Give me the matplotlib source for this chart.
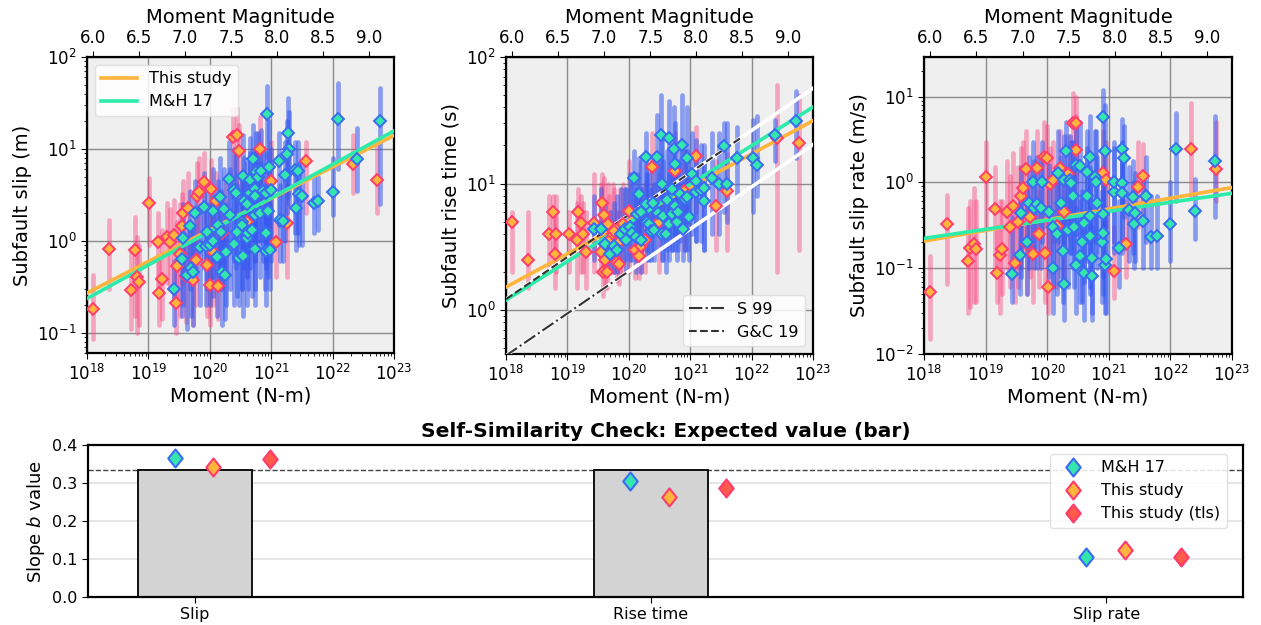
import numpy as np
import matplotlib
matplotlib.use("Agg")
import matplotlib.pyplot as plt
from matplotlib.lines import Line2D
from matplotlib.path import Path
from matplotlib.ticker import NullLocator, FixedLocator

# ---------------------------------------------------------------------------
# Per-event subfault statistics.
# Each row: log10 seismic moment (N-m), event median, lowest subfault, highest subfault
# ---------------------------------------------------------------------------
slip_this_study = [
    (18.10, 0.18, 0.085, 0.42), (18.36, 0.81, 0.30, 1.7), (18.71, 0.29, 0.11, 0.75),
    (18.78, 0.80, 0.15, 1.8), (18.81, 0.40, 0.10, 1.1), (18.84, 0.36, 0.12, 0.9),
    (19.01, 2.56, 0.9, 4.8), (19.15, 0.96, 0.25, 2.0), (19.18, 0.27, 0.12, 0.6),
    (19.22, 0.38, 0.14, 1.3), (19.30, 1.10, 0.35, 2.6), (19.35, 0.96, 0.30, 2.2),
    (19.42, 1.16, 0.20, 2.8), (19.45, 0.21, 0.10, 0.5), (19.46, 0.53, 0.20, 1.6),
    (19.52, 0.72, 0.15, 2.5), (19.55, 1.43, 0.35, 3.2), (19.56, 2.0, 0.5, 4.5),
    (19.62, 0.41, 0.13, 1.1), (19.65, 2.3, 0.4, 5.5), (19.72, 0.37, 0.12, 1.0),
    (19.78, 0.62, 0.20, 1.8), (19.79, 3.1, 0.6, 7.0), (19.82, 3.4, 0.7, 8.0),
    (19.90, 4.4, 1.2, 9.0), (19.95, 0.55, 0.15, 1.4), (20.02, 3.7, 0.9, 7.5),
    (20.00, 0.33, 0.12, 0.9), (20.06, 0.75, 0.2, 2.0), (20.10, 2.7, 0.6, 5.5),
    (20.14, 0.32, 0.14, 0.8), (20.20, 1.2, 0.3, 3.0), (20.27, 2.1, 0.5, 5.0),
    (20.38, 13.5, 3.0, 27), (20.45, 14.0, 3.5, 28), (20.47, 9.5, 2.5, 18),
    (20.60, 1.6, 0.4, 4.0), (20.81, 10.0, 2.5, 22), (20.99, 4.5, 0.9, 12),
    (21.08, 0.96, 0.4, 1.6), (21.26, 1.55, 0.4, 4.0), (21.57, 7.4, 2.0, 12),
    (22.34, 6.8, 3.3, 14), (22.72, 4.6, 2.0, 12),
]
slip_mh17 = [
    (19.41, 0.30, 0.12, 0.6), (19.55, 0.64, 0.15, 1.6), (19.57, 1.07, 0.20, 2.5),
    (19.63, 0.42, 0.11, 1.2), (19.67, 1.45, 0.30, 3.5), (19.69, 0.50, 0.15, 1.3),
    (19.72, 0.46, 0.12, 1.4), (19.76, 2.0, 0.4, 4.5), (19.84, 0.85, 0.20, 2.2),
    (19.91, 2.35, 0.5, 5.5), (19.93, 0.87, 0.2, 2.5), (19.95, 1.25, 0.3, 3.5),
    (20.00, 0.90, 0.20, 2.5), (20.05, 2.1, 0.4, 6.0), (20.06, 1.0, 0.25, 3.0),
    (20.12, 0.66, 0.15, 2.0), (20.14, 1.5, 0.3, 4.5), (20.16, 3.0, 0.5, 8.0),
    (20.19, 1.25, 0.3, 3.5), (20.20, 0.46, 0.12, 1.4), (20.23, 2.2, 0.4, 6.0),
    (20.25, 0.42, 0.14, 1.3), (20.26, 0.76, 0.2, 2.5), (20.31, 4.7, 0.8, 12),
    (20.33, 1.9, 0.3, 6.0), (20.39, 0.92, 0.2, 3.0), (20.40, 3.6, 0.6, 10),
    (20.42, 3.3, 0.5, 9.0), (20.44, 1.25, 0.25, 4.0), (20.48, 0.65, 0.2, 2.5),
    (20.52, 1.6, 0.3, 5.0), (20.54, 5.1, 0.8, 14), (20.54, 0.68, 0.15, 2.5),
    (20.53, 1.5, 0.3, 5.0), (20.56, 2.7, 0.5, 8.0), (20.60, 2.5, 0.4, 7.0),
    (20.60, 1.06, 0.2, 3.5), (20.63, 1.2, 0.3, 4.5), (20.65, 4.6, 0.8, 13),
    (20.65, 3.3, 0.5, 9.0), (20.68, 1.3, 0.25, 4.5), (20.70, 7.7, 1.5, 18),
    (20.73, 3.7, 0.6, 10), (20.73, 1.9, 0.3, 6.0), (20.73, 0.82, 0.2, 3.0),
    (20.74, 3.1, 0.6, 9.0), (20.76, 5.6, 1.0, 15), (20.79, 5.0, 1.0, 15),
    (20.82, 2.0, 0.4, 7.0), (20.84, 5.8, 1.0, 16), (20.87, 3.5, 0.6, 10),
    (20.90, 1.25, 0.3, 4.0), (20.92, 3.3, 0.6, 9.0), (20.92, 0.78, 0.2, 2.5),
    (20.93, 24, 8.0, 48), (20.95, 2.1, 0.4, 7.0), (20.96, 6.4, 1.5, 20),
    (20.99, 3.6, 0.6, 10), (20.91, 1.2, 0.5, 3.5), (20.98, 0.80, 0.3, 2.5),
    (21.13, 7.3, 1.5, 15), (21.15, 1.67, 0.6, 4.0), (21.27, 15, 3.0, 36),
    (21.29, 10, 2.5, 25), (21.25, 8.7, 2.0, 20), (21.23, 5.2, 1.0, 12),
    (21.20, 1.65, 0.6, 4.5), (21.39, 5.9, 1.2, 12), (21.41, 2.3, 0.8, 6.0),
    (21.44, 5.8, 1.2, 12), (21.46, 3.25, 0.9, 7.0), (21.50, 3.1, 0.9, 7.0),
    (21.69, 2.6, 1.2, 5.0), (21.77, 2.7, 1.3, 5.0), (22.01, 3.4, 1.9, 8.0),
    (22.08, 21, 6.0, 52), (22.39, 7.8, 3.5, 17), (22.78, 20, 2.5, 46),
]
rise_this_study = [
    (18.09, 5.0, 2.0, 6.0), (18.36, 2.5, 1.5, 6.0), (18.70, 4.0, 2.0, 8.0),
    (18.76, 6.0, 3.0, 8.0), (18.80, 2.8, 1.5, 6.0), (18.82, 4.0, 2.0, 8.0),
    (19.02, 4.0, 2.0, 6.0), (19.15, 3.6, 1.5, 7.0), (19.18, 6.0, 3.0, 9.0),
    (19.22, 4.9, 2.0, 8.0), (19.25, 4.0, 2.0, 7.0), (19.30, 2.9, 1.5, 6.0),
    (19.44, 4.9, 2.0, 12), (19.55, 2.9, 2.0, 10), (19.56, 7.0, 3.0, 12),
    (19.58, 2.0, 1.3, 5.0), (19.60, 5.6, 2.5, 11), (19.62, 2.5, 1.5, 6.0),
    (19.65, 2.0, 1.5, 4.0), (19.66, 4.8, 2.0, 10), (19.68, 3.5, 2.0, 8.0),
    (19.74, 4.0, 2.0, 10), (19.76, 4.2, 2.0, 9.0), (19.80, 2.4, 1.7, 6.0),
    (19.84, 2.3, 1.6, 6.0), (19.85, 3.5, 2.0, 9.0), (19.90, 4.8, 2.0, 10),
    (20.00, 6.1, 2.0, 15), (20.10, 3.0, 1.8, 8.0), (20.17, 2.7, 1.8, 7.0),
    (20.20, 3.2, 2.0, 9.0), (20.27, 3.6, 2.0, 10), (20.37, 13.5, 5.0, 25),
    (20.49, 5.0, 2.0, 12), (20.75, 12.5, 5.0, 25), (20.90, 8.8, 3.0, 18),
    (21.10, 16.5, 6.0, 28), (21.42, 6.7, 3.0, 15), (21.60, 8.7, 3.0, 17),
    (22.42, 23, 2.0, 60), (22.77, 21, 3.0, 50),
]
rise_mh17 = [
    (19.43, 4.4, 2.5, 8.0), (19.55, 4.4, 2.5, 9.0), (19.62, 3.3, 2.0, 7.0),
    (19.70, 2.8, 2.0, 6.0), (19.76, 3.2, 2.0, 7.0), (19.80, 3.0, 2.0, 8.0),
    (19.88, 4.0, 2.5, 9.0), (19.93, 4.4, 2.5, 9.0), (19.95, 3.6, 2.0, 9.0),
    (20.02, 4.5, 2.5, 12), (20.06, 4.1, 2.5, 10), (20.09, 11.0, 4.0, 18),
    (20.12, 3.8, 2.0, 9.0), (20.14, 5.7, 2.5, 12), (20.17, 8.2, 3.5, 16),
    (20.20, 6.0, 3.0, 15), (20.20, 3.6, 2.0, 9.0), (20.28, 16.3, 5.0, 25),
    (20.28, 6.9, 3.0, 14), (20.30, 5.0, 2.5, 12), (20.33, 4.8, 2.5, 12),
    (20.36, 4.2, 2.5, 9.0), (20.40, 7.0, 3.0, 15), (20.41, 4.3, 2.5, 10),
    (20.46, 16.1, 5.0, 35), (20.47, 5.9, 3.0, 14), (20.52, 24, 8.0, 50),
    (20.54, 10, 4.0, 25), (20.54, 4.0, 2.5, 10), (20.55, 5.5, 2.5, 15),
    (20.60, 4.0, 2.0, 10), (20.63, 7.4, 3.0, 18), (20.65, 4.8, 2.5, 12),
    (20.66, 23, 6.0, 45), (20.70, 9.0, 3.0, 20), (20.71, 5.7, 3.0, 14),
    (20.73, 18.6, 6.0, 40), (20.76, 14.3, 4.0, 30), (20.76, 6.7, 3.0, 15),
    (20.79, 5.0, 2.5, 12), (20.80, 6.0, 3.0, 15), (20.84, 8.3, 3.5, 20),
    (20.87, 20, 5.0, 50), (20.89, 4.4, 2.5, 10), (20.92, 7.5, 3.0, 18),
    (20.95, 16, 5.0, 40), (20.95, 7.8, 3.0, 18), (20.98, 5.4, 2.5, 12),
    (21.03, 12, 4.0, 25), (21.09, 10.4, 3.5, 22), (21.10, 8.5, 3.5, 18),
    (21.17, 8.9, 3.5, 20), (21.22, 7.3, 3.0, 15), (21.23, 9.2, 3.0, 20),
    (21.35, 11, 4.0, 25), (21.47, 10, 4.0, 25), (21.55, 19.8, 6.0, 30),
    (21.60, 10, 5.0, 30), (21.77, 16, 8.0, 28), (22.03, 16, 6.0, 32),
    (22.08, 13.9, 8.0, 34), (22.38, 24, 15, 32), (22.72, 31, 16, 54),
]
rate_this_study = [
    (18.09, 0.053, 0.015, 0.14), (18.37, 0.33, 0.065, 0.72), (18.72, 0.12, 0.03, 0.5),
    (18.75, 0.17, 0.035, 0.6), (18.81, 0.19, 0.04, 0.85), (18.84, 0.166, 0.04, 0.6),
    (19.01, 1.16, 0.3, 3.0), (19.15, 0.49, 0.1, 1.5), (19.18, 0.087, 0.04, 0.3),
    (19.23, 0.141, 0.03, 0.6), (19.27, 0.166, 0.05, 0.6), (19.34, 0.45, 0.1, 1.8),
    (19.40, 0.30, 0.06, 1.2), (19.45, 0.53, 0.08, 2.2), (19.47, 0.114, 0.04, 0.5),
    (19.52, 0.35, 0.06, 1.5), (19.58, 0.69, 0.1, 2.5), (19.61, 0.87, 0.15, 3.0),
    (19.66, 1.42, 0.2, 4.0), (19.67, 0.19, 0.05, 0.6), (19.72, 0.40, 0.08, 1.5),
    (19.77, 0.146, 0.04, 0.5), (19.84, 1.48, 0.3, 4.0), (19.86, 0.25, 0.06, 0.8),
    (19.94, 2.0, 0.3, 5.0), (19.96, 0.15, 0.04, 0.5), (20.00, 1.93, 0.3, 4.5),
    (20.01, 0.061, 0.03, 0.3), (20.05, 0.95, 0.15, 2.5), (20.10, 1.08, 0.2, 3.0),
    (20.16, 0.31, 0.06, 1.0), (20.20, 1.48, 0.3, 4.0), (20.27, 0.45, 0.08, 1.5),
    (20.34, 1.24, 0.3, 3.5), (20.42, 4.9, 1.2, 11), (20.46, 2.4, 0.5, 6.0),
    (20.47, 4.9, 1.0, 10), (20.91, 1.3, 0.3, 4.0), (20.95, 1.08, 0.3, 3.0),
    (21.08, 0.093, 0.045, 0.3), (21.28, 0.19, 0.08, 0.6), (21.47, 0.89, 0.3, 3.0),
    (21.56, 1.18, 0.4, 2.8), (22.33, 2.48, 0.7, 8.5), (22.74, 1.44, 0.6, 5.0),
]
rate_mh17 = [
    (19.43, 0.085, 0.04, 0.4), (19.56, 0.142, 0.05, 0.6), (19.58, 0.44, 0.08, 1.5),
    (19.68, 0.20, 0.05, 0.8), (19.71, 0.57, 0.1, 2.0), (19.77, 1.0, 0.15, 3.0),
    (19.78, 0.50, 0.1, 1.8), (19.84, 0.56, 0.1, 2.0), (19.90, 0.50, 0.1, 1.8),
    (19.92, 1.0, 0.2, 3.0), (20.03, 0.45, 0.08, 1.6), (20.09, 0.10, 0.03, 0.4),
    (20.10, 0.30, 0.06, 1.0), (20.16, 0.25, 0.05, 1.0), (20.17, 1.3, 0.2, 4.0),
    (20.23, 0.58, 0.08, 2.0), (20.25, 0.16, 0.04, 0.6), (20.28, 0.065, 0.025, 0.25),
    (20.28, 1.08, 0.15, 3.5), (20.30, 2.3, 0.3, 5.0), (20.33, 0.28, 0.06, 1.0),
    (20.37, 1.08, 0.15, 3.5), (20.39, 0.98, 0.15, 3.0), (20.42, 0.69, 0.1, 3.0),
    (20.44, 0.30, 0.06, 1.2), (20.46, 0.11, 0.03, 0.5), (20.47, 1.6, 0.25, 5.0),
    (20.53, 0.14, 0.04, 0.6), (20.53, 1.55, 0.2, 5.0), (20.57, 0.20, 0.04, 0.8),
    (20.59, 0.34, 0.07, 1.2), (20.59, 0.089, 0.025, 0.35), (20.64, 0.69, 0.12, 2.5),
    (20.65, 1.33, 0.2, 4.0), (20.69, 2.0, 0.3, 6.0), (20.70, 0.41, 0.06, 1.5),
    (20.70, 0.24, 0.05, 0.9), (20.72, 0.13, 0.03, 0.5), (20.72, 0.081, 0.025, 0.3),
    (20.78, 1.17, 0.2, 4.0), (20.81, 0.58, 0.1, 2.0), (20.80, 1.0, 0.15, 4.0),
    (20.89, 0.20, 0.04, 0.8), (20.91, 5.8, 1.0, 12), (20.91, 0.43, 0.08, 1.5),
    (20.94, 2.3, 0.3, 8.0), (20.94, 0.11, 0.03, 0.45), (20.95, 0.128, 0.03, 0.5),
    (20.90, 0.26, 0.05, 1.0), (21.08, 0.77, 0.15, 2.5), (21.08, 1.0, 0.2, 3.0),
    (21.17, 0.17, 0.06, 0.6), (21.21, 0.99, 0.2, 3.0), (21.22, 2.46, 0.5, 5.5),
    (21.24, 1.93, 0.4, 4.5), (21.21, 0.76, 0.15, 2.0), (21.32, 0.48, 0.12, 1.5),
    (21.39, 0.68, 0.15, 1.8), (21.41, 0.33, 0.1, 1.0), (21.43, 0.44, 0.12, 1.3),
    (21.56, 0.36, 0.1, 1.0), (21.60, 0.69, 0.2, 2.0), (21.68, 0.23, 0.1, 0.7),
    (21.79, 0.24, 0.1, 0.7), (22.00, 0.33, 0.12, 1.0), (22.09, 2.48, 0.6, 6.5),
    (22.40, 0.47, 0.22, 1.1), (22.73, 1.77, 0.4, 6.0),
]

# Self-similarity check: slope b of log(quantity) vs log(moment)
quantities = ["Slip", "Rise time", "Slip rate"]
expected_b = [1 / 3, 1 / 3, 0.0]
b_mh17 = [0.365, 0.305, 0.105]
b_this_study = [0.343, 0.263, 0.125]
b_this_study_tls = [0.363, 0.288, 0.106]

# Fit-line level at M0 = 1e18 N-m (slip m, rise time s, slip rate m/s)
fit_1e18_this_study = [0.27, 1.52, 0.207]
fit_1e18_mh17 = [0.235, 1.20, 0.223]

# Rise-time scaling laws (b = 1/3), level at 1e18 N-m
s99_1e18 = 0.437
gc19_1e18 = 1.22

# Moment-magnitude tick values
mw_ticks = [6.0, 6.5, 7.0, 7.5, 8.0, 8.5, 9.0]

# ---------------------------------------------------------------------------
PINK = "#FA3F7C"
BLUE = "#3558F0"
ORANGE = "#FFB43C"
GREEN = "#2DEBA9"
EDGE_PINK = "#FF3C6E"
EDGE_BLUE = "#3A6BF2"
GREEN_FILL = "#34E6AE"
TLS_RED = "#FF5A4A"
DARK = "#333333"

W, H = 1261, 625
fig = plt.figure(figsize=(W / 100, H / 100), dpi=100)


def rect(left, top, width, height):
    return [left / W, 1 - (top + height) / H, width / W, height / H]


def m0_to_mw(m):
    m = np.asarray(m, dtype=float)
    with np.errstate(divide="ignore", invalid="ignore"):
        return 2.0 / 3.0 * (np.log10(m) - 9.1)


def mw_to_m0(mw):
    return 10 ** (1.5 * np.asarray(mw, dtype=float) + 9.1)


def columns(ax, rows, color, alpha):
    logm = np.array([r[0] for r in rows])
    lo = [r[2] for r in rows]
    hi = [r[3] for r in rows]
    ax.vlines(10 ** logm, lo, hi, colors=color, alpha=alpha, lw=3.4,
              capstyle="round", zorder=2)


def medians(ax, rows, face, edge):
    logm = np.array([r[0] for r in rows])
    med = [r[1] for r in rows]
    ax.plot(10 ** logm, med, ls="none", marker="D", ms=6.5, mfc=face,
            mec=edge, mew=1.4, zorder=6)


def panel(rect_px, ts_rows, mh_rows, k, ylabel, ylim):
    ax = fig.add_axes(rect(*rect_px))
    ax.set_facecolor("#EFEFEF")
    ax.set_xscale("log")
    ax.set_yscale("log")
    ax.set_xlim(1e18, 1e23)
    ax.set_ylim(*ylim)
    ax.grid(True, which="major", color="#8C8C8C", lw=1.0)
    ax.set_axisbelow(True)

    columns(ax, ts_rows, PINK, 0.42)
    columns(ax, mh_rows, BLUE, 0.55)

    m = np.array([1e18, 1e23])
    ax.plot(m, fit_1e18_this_study[k] * (m / 1e18) ** b_this_study[k],
            color=ORANGE, lw=2.6, zorder=4, label="This study")
    ax.plot(m, fit_1e18_mh17[k] * (m / 1e18) ** b_mh17[k],
            color=GREEN, lw=2.6, zorder=4.1, label="M&H 17")

    medians(ax, ts_rows, ORANGE, EDGE_PINK)
    medians(ax, mh_rows, GREEN_FILL, EDGE_BLUE)

    ax.set_xlabel("Moment (N-m)", fontsize=14, labelpad=2)
    ax.set_ylabel(ylabel, fontsize=14)
    ax.tick_params(axis="both", which="major", labelsize=12, length=4)
    for s in ax.spines.values():
        s.set_linewidth(1.6)
        s.set_color("black")

    sec = ax.secondary_xaxis("top", functions=(m0_to_mw, mw_to_m0))
    sec.xaxis.set_major_locator(FixedLocator(mw_ticks))
    sec.xaxis.set_minor_locator(NullLocator())
    sec.set_xticklabels([f"{v:.1f}" for v in mw_ticks])
    sec.tick_params(labelsize=12, length=4)
    sec.set_xlabel("Moment Magnitude", fontsize=14, labelpad=4)
    return ax


ax1 = panel((87, 57, 307, 296), slip_this_study, slip_mh17, 0,
            "Subfault slip (m)", (0.06, 100))
ax1.legend(loc="upper left", fontsize=11.5, framealpha=0.85,
           edgecolor="#DDDDDD", handlelength=2.2)

ax2 = panel((506, 57, 307, 297), rise_this_study, rise_mh17, 1,
            "Subfault rise time (s)", (0.45, 100))
m_full = np.array([1e18, 1e23])
ax2.plot(m_full, s99_1e18 * (m_full / 1e18) ** (1 / 3), color="white", lw=2.6, zorder=3)
ax2.plot(m_full, gc19_1e18 * (m_full / 1e18) ** (1 / 3), color="white", lw=2.6, zorder=3)
m_s99 = np.array([1e18, 1e20])
m_gc = np.array([1e18, 7e21])
ax2.plot(m_s99, s99_1e18 * (m_s99 / 1e18) ** (1 / 3), color=DARK, ls="-.", lw=1.5, zorder=5)
ax2.plot(m_gc, gc19_1e18 * (m_gc / 1e18) ** (1 / 3), color=DARK, ls="--", lw=1.5, zorder=5)
ax2.legend(handles=[Line2D([], [], color=DARK, ls="-.", lw=1.5, label="S 99"),
                    Line2D([], [], color=DARK, ls="--", lw=1.5, label="G&C 19")],
           loc="lower right", fontsize=11.5, framealpha=0.85, edgecolor="#DDDDDD",
           handlelength=2.2)

ax3 = panel((924, 57, 308, 297), rate_this_study, rate_mh17, 2,
            "Subfault slip rate (m/s)", (0.01, 29))

# ---------------------------------------------------------------------------
# Bottom: fitted slopes against the self-similar expectation
# ---------------------------------------------------------------------------
axb = fig.add_axes(rect(88, 445, 1155, 152))
x = np.arange(len(quantities))
axb.bar(x, expected_b, width=0.25, color="#D3D3D3", edgecolor="black", lw=1.3, zorder=2)
axb.axhline(1 / 3, color="#444444", ls="--", lw=1.0, zorder=1.5)

diamond = Path([(0, 1), (0.8, 0), (0, -1), (-0.8, 0), (0, 1)], closed=True)
axb.plot(x - 0.045, b_mh17, ls="none", marker=diamond, ms=13, mfc=GREEN_FILL,
         mec=EDGE_BLUE, mew=1.5, zorder=4, label="M&H 17")
axb.plot(x + 0.04, b_this_study, ls="none", marker=diamond, ms=13, mfc=ORANGE,
         mec=EDGE_PINK, mew=1.5, zorder=4, label="This study")
axb.plot(x + 0.165, b_this_study_tls, ls="none", marker=diamond, ms=13, mfc=TLS_RED,
         mec=EDGE_PINK, mew=1.5, zorder=4, label="This study (tls)")

axb.set_xlim(-0.235, 2.30)
axb.set_ylim(0, 0.4)
axb.set_yticks([0.0, 0.1, 0.2, 0.3, 0.4])
axb.set_xticks(x)
axb.set_xticklabels(quantities)
axb.tick_params(labelsize=11.5, length=4)
axb.yaxis.grid(True, color="#E2E2E2", lw=1.2)
axb.set_axisbelow(True)
for s in axb.spines.values():
    s.set_linewidth(1.6)
    s.set_color("black")
axb.set_ylabel("Slope $b$ value", fontsize=13)
axb.set_title("Self-Similarity Check: Expected value (bar)", fontsize=14.5,
              fontweight="bold", pad=6)
axb.legend(loc="upper right", bbox_to_anchor=(0.986, 0.941), borderaxespad=0,
           fontsize=11.5, framealpha=0.85, edgecolor="#DDDDDD")

fig.savefig("out.png", dpi=100)
